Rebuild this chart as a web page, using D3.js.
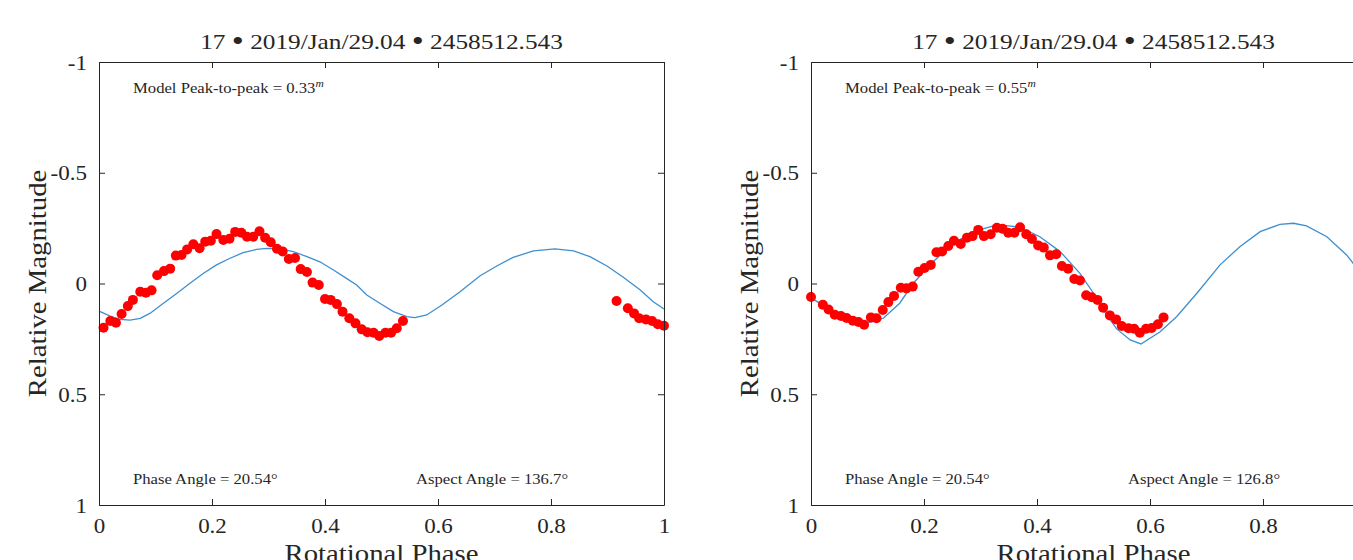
<!DOCTYPE html>
<html>
<head>
<meta charset="utf-8">
<script src="https://cdn.jsdelivr.net/npm/d3@7"></script>
<style>
  body { margin: 0; background: #fff; overflow: hidden; }
  text { font-family: "Liberation Serif", "DejaVu Serif", serif; fill: #262626; }
</style>
</head>
<body>
<svg id="chart" width="1353" height="560"></svg>
<script>
const TITLE_PARTS = ["17", "2019/Jan/29.04", "2458512.543"];
const X_TICKS = [0, 0.2, 0.4, 0.6, 0.8, 1];
const Y_TICKS = [-1, -0.5, 0, 0.5, 1];

// left panel
const obsPhaseA = [0.008,0.020,0.030,0.040,0.051,0.060,0.073,0.083,0.093,0.103,0.115,0.126,0.136,0.146,0.156,0.167,0.178,0.188,0.198,0.208,0.220,0.231,0.241,0.252,0.262,0.273,0.284,0.294,0.304,0.315,0.325,0.336,0.347,0.357,0.368,0.378,0.389,0.400,0.410,0.421,0.431,0.443,0.454,0.465,0.475,0.486,0.496,0.507,0.517,0.527,0.538,
  0.916,0.936,0.947,0.956,0.968,0.979,0.989,1.000];
const obsMagA = [0.200,0.169,0.177,0.138,0.102,0.074,0.037,0.042,0.031,-0.037,-0.056,-0.067,-0.126,-0.129,-0.154,-0.177,-0.159,-0.189,-0.193,-0.223,-0.196,-0.202,-0.233,-0.229,-0.211,-0.211,-0.236,-0.207,-0.186,-0.157,-0.145,-0.111,-0.115,-0.065,-0.052,-0.004,0.007,0.070,0.074,0.093,0.127,0.157,0.180,0.207,0.220,0.222,0.237,0.222,0.222,0.202,0.169,
  0.079,0.112,0.135,0.157,0.162,0.169,0.184,0.191];
const modelPhaseA = [0,0.020,0.037,0.055,0.073,0.090,0.114,0.138,0.161,0.185,0.208,0.232,0.255,0.279,0.297,0.320,0.344,0.368,0.391,0.415,0.438,0.456,0.474,0.497,0.521,0.545,0.559,0.580,0.607,0.639,0.674,0.704,0.733,0.769,0.807,0.840,0.869,0.899,0.928,0.958,0.981,1.000];
const modelMagA = [0.125,0.147,0.162,0.165,0.157,0.135,0.089,0.044,-0.001,-0.046,-0.084,-0.114,-0.139,-0.154,-0.159,-0.156,-0.144,-0.121,-0.098,-0.061,-0.023,0.007,0.052,0.089,0.127,0.150,0.154,0.142,0.097,0.037,-0.034,-0.079,-0.118,-0.147,-0.156,-0.147,-0.121,-0.079,-0.028,0.029,0.082,0.115];

// right panel
const obsPhaseB = [0.000,0.021,0.031,0.042,0.053,0.063,0.074,0.084,0.094,0.106,0.116,0.127,0.137,0.147,0.159,0.169,0.180,0.190,0.201,0.212,0.222,0.232,0.243,0.253,0.265,0.276,0.286,0.296,0.306,0.318,0.329,0.339,0.349,0.360,0.370,0.381,0.391,0.402,0.412,0.423,0.434,0.444,0.455,0.466,0.476,0.487,0.497,0.507,0.517,0.529,0.540,0.550,0.562,0.572,0.582,0.593,0.603,0.614,0.624];
const obsMagB = [0.061,0.096,0.117,0.141,0.147,0.156,0.168,0.174,0.186,0.153,0.157,0.120,0.084,0.056,0.019,0.022,0.014,-0.053,-0.070,-0.084,-0.141,-0.145,-0.169,-0.193,-0.178,-0.207,-0.214,-0.242,-0.214,-0.222,-0.252,-0.247,-0.229,-0.229,-0.254,-0.222,-0.201,-0.172,-0.162,-0.127,-0.132,-0.079,-0.067,-0.020,-0.014,0.053,0.062,0.074,0.109,0.144,0.162,0.192,0.202,0.204,0.222,0.204,0.201,0.184,0.153];
const modelPhaseB = [0,0.040,0.069,0.093,0.110,0.128,0.157,0.181,0.216,0.252,0.287,0.323,0.346,0.370,0.405,0.441,0.476,0.500,0.512,0.541,0.565,0.584,0.618,0.647,0.683,0.724,0.759,0.795,0.830,0.854,0.877,0.913,0.948,0.975,1.000];
const modelMagB = [0.065,0.127,0.157,0.180,0.172,0.157,0.089,-0.001,-0.098,-0.181,-0.234,-0.260,-0.261,-0.254,-0.211,-0.144,-0.046,0.044,0.100,0.205,0.255,0.273,0.218,0.150,0.044,-0.084,-0.166,-0.234,-0.267,-0.272,-0.260,-0.211,-0.129,-0.040,0.060];

const panels = [
  {left: 99, obsX: obsPhaseA, obsY: obsMagA, modX: modelPhaseA, modY: modelMagA,
   p2p: "0.33", aspect: "136.7"},
  {left: 811, obsX: obsPhaseB, obsY: obsMagB, modX: modelPhaseB, modY: modelMagB,
   p2p: "0.55", aspect: "126.8"}
];

const TOP = 62, PW = 565, PH = 443;
const AXIS_COLOR = "#262626";
const WIDEN = 1.15; // Liberation Serif is narrower than the LaTeX font in the picture
const svg = d3.select("#chart");

// text in a group that stretches it horizontally
function addText(parent, x, y, size, anchor, rotate){
  const g = parent.append("g")
    .attr("transform", `translate(${x},${y})` + (rotate ? ` rotate(${rotate})` : "") + ` scale(${WIDEN},1)`);
  return g.append("text").attr("font-size", size).attr("text-anchor", anchor);
}

function drawPanel(p){
  const g = svg.append("g").attr("transform", `translate(${p.left},${TOP})`);
  const x = d3.scaleLinear().domain([0, 1]).range([0, PW]);
  const y = d3.scaleLinear().domain([-1, 1]).range([0, PH]);

  // model curve
  const line = d3.line().x((d)=>x(d[0])).y((d)=>y(d[1]));
  g.append("path")
    .datum(d3.zip(p.modX, p.modY))
    .attr("d", line)
    .attr("fill", "none")
    .attr("stroke", "#3d8fd1")
    .attr("stroke-width", 1.3);

  // observations
  g.selectAll("circle.obs")
    .data(d3.zip(p.obsX, p.obsY))
    .enter()
    .append("circle")
    .attr("class", "obs")
    .attr("cx", (d)=>x(d[0]))
    .attr("cy", (d)=>y(d[1]))
    .attr("r", 5)
    .attr("fill", "#ff0000");

  // axes, ticks pointing inward
  const fmt = (d)=>String(d);
  const bottom = g.append("g").attr("transform", `translate(0,${PH})`)
    .call(d3.axisBottom(x).tickValues(X_TICKS).tickFormat(fmt).tickSizeInner(-6).tickSizeOuter(0).tickPadding(14));
  const top = g.append("g")
    .call(d3.axisTop(x).tickValues(X_TICKS).tickFormat("").tickSizeInner(-6).tickSizeOuter(0));
  const leftAx = g.append("g")
    .call(d3.axisLeft(y).tickValues(Y_TICKS).tickFormat(fmt).tickSizeInner(-6).tickSizeOuter(0).tickPadding(12));
  const rightAx = g.append("g").attr("transform", `translate(${PW},0)`)
    .call(d3.axisRight(y).tickValues(Y_TICKS).tickFormat("").tickSizeInner(-6).tickSizeOuter(0));

  [bottom, top, leftAx, rightAx].forEach((a)=>{
    a.selectAll("path.domain").attr("stroke", AXIS_COLOR).attr("stroke-width", 1);
    a.selectAll(".tick line").attr("stroke", AXIS_COLOR);
    a.selectAll("text").style("font-family", '"Liberation Serif", serif').attr("fill", AXIS_COLOR);
  });
  bottom.selectAll("text").attr("font-size", 20)
    .attr("transform", `scale(${WIDEN},1)`);
  leftAx.selectAll("text").attr("font-size", 20).attr("dy", "0.35em")
    .attr("x", 0).attr("transform", `translate(-12,0) scale(${WIDEN},1)`);

  // title with big bullets
  const t = addText(g, PW / 2, -13, 22, "middle");
  TITLE_PARTS.forEach((s, i)=>{
    if (i > 0) {
      t.append("tspan").text(" ");
      t.append("tspan").attr("font-size", 30).attr("dy", 2).text("\u2022");
      t.append("tspan").attr("dy", -2).text(" ");
    }
    t.append("tspan").text(s);
  });

  // axis labels
  addText(g, PW / 2, PH + 57, 25, "middle").text("Rotational Phase");
  addText(g, -53, PH / 2, 25, "middle", -90).text("Relative Magnitude");

  // annotations
  const ann = addText(g, 34, 31, 14.5, "start");
  ann.append("tspan").text("Model Peak-to-peak = " + p.p2p);
  ann.append("tspan").attr("font-size", 10).attr("dy", -6).attr("font-style", "italic").text("m");

  addText(g, 34, PH - 21, 14.5, "start").text("Phase Angle = 20.54\u00b0");
  addText(g, 317, PH - 21, 14.5, "start").text("Aspect Angle = " + p.aspect + "\u00b0");
}

panels.forEach(drawPanel);
</script>
</body>
</html>
